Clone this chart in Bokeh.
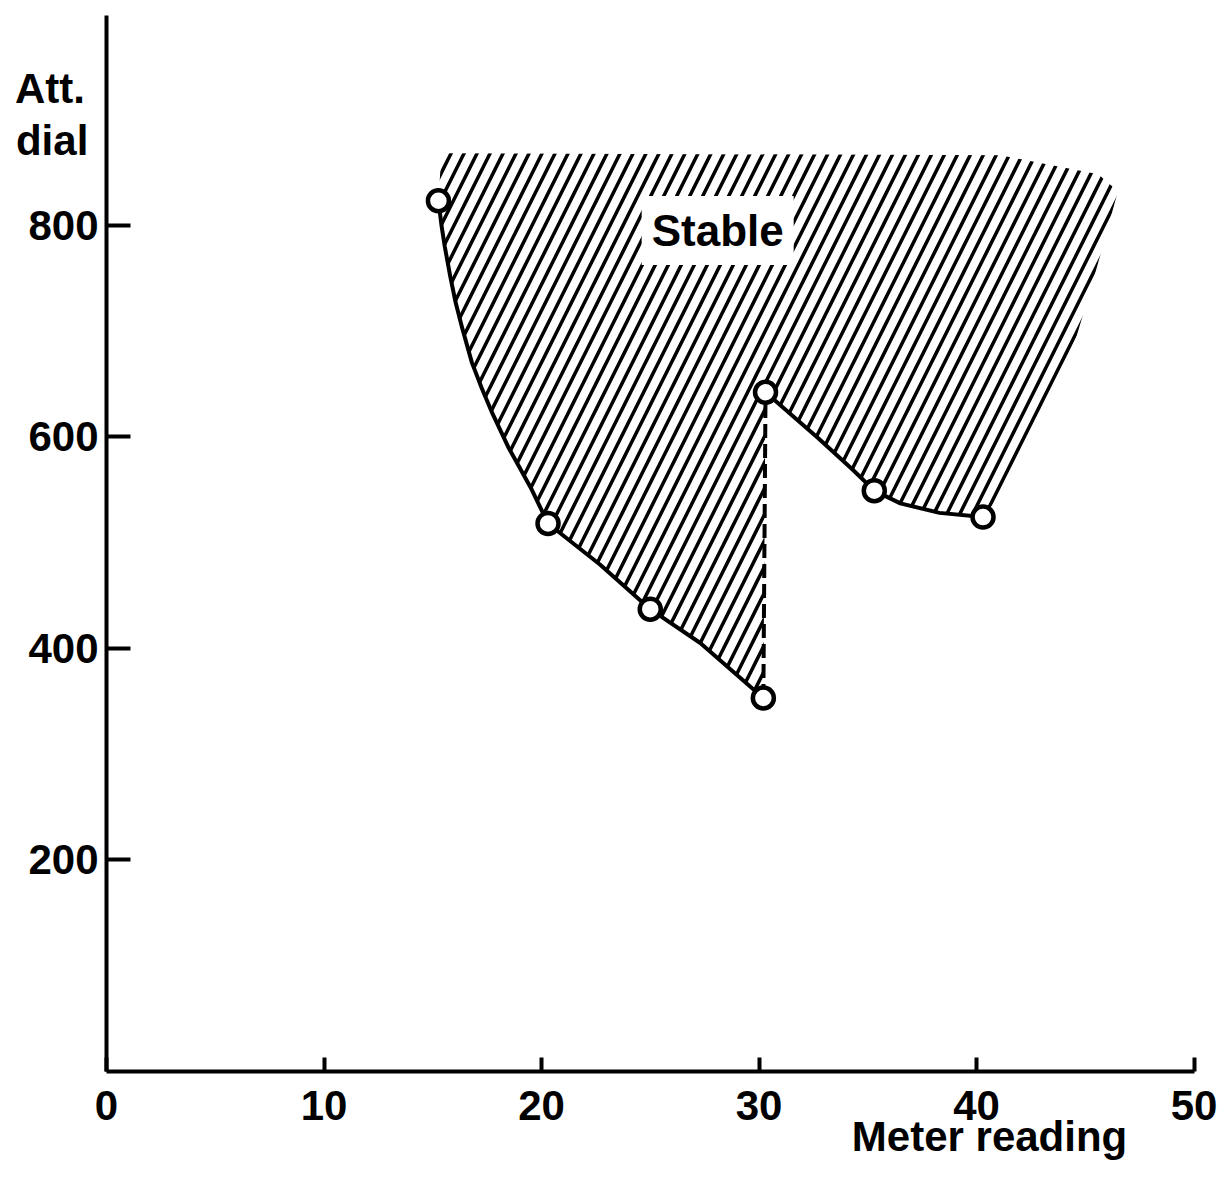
from bokeh.plotting import figure
from bokeh.models import FixedTicker, Label, Range1d
from bokeh.embed import file_html
from bokeh.resources import INLINE

# Measured points (meter reading, attenuator dial)
meter = [15.26, 20.3, 25.0, 30.2, 30.3, 35.3, 40.3]
att = [823, 518, 437, 353, 642, 549, 524]

# Boundary curve, left branch
left_x = [15.26, 15.4, 15.55, 15.8, 16.05, 16.35, 16.8, 17.25, 17.7, 18.5, 19.5, 20.3, 22.7, 25.0, 27.3, 30.2]
left_y = [823, 800, 780, 752, 727, 703, 670, 646, 624, 589, 552, 518, 479, 437, 405, 353]

# Boundary curve, right branch
right_x = [30.3, 32.7, 34.3, 35.3, 36.5, 38.3, 40.3]
right_y = [642, 599, 569, 549, 537, 528, 524]

# Outer edge of the hatched "Stable" region
edge_x = [40.9, 41.2, 42.2, 43.4, 44.6, 45.3, 45.9, 46.5, 45.6, 41.1, 15.4]
edge_y = [540, 548, 583, 641, 695, 743, 787, 832, 848, 866, 868]

x_ticks = [0, 10, 20, 30, 40, 50]
y_ticks = [200, 400, 600, 800]

FONT = "Liberation Sans"

p = figure(width=1229, height=1194, output_backend="svg", toolbar_location=None,
           x_range=Range1d(-4.874, 51.632), y_range=Range1d(-116.26, 1012.29),
           min_border_left=0, min_border_right=0, min_border_top=0,
           min_border_bottom=0, min_border=0)
p.outline_line_color = None
p.grid.visible = False
p.background_fill_color = "white"
p.border_fill_color = "white"

for ax, ticks, tin, bnds in ((p.xaxis[0], x_ticks, 14, (0, 50)),
                             (p.yaxis[0], y_ticks, 24, (0, 998))):
    ax.fixed_location = 0
    ax.bounds = bnds
    ax.ticker = FixedTicker(ticks=ticks)
    ax.axis_line_width = 4
    ax.axis_line_color = "black"
    ax.major_tick_line_width = 4
    ax.major_tick_line_color = "black"
    ax.major_tick_in = tin
    ax.major_tick_out = 0
    ax.minor_tick_line_color = None
    ax.major_label_text_font = FONT
    ax.major_label_text_font_style = "bold"
    ax.major_label_text_font_size = "42px"
    ax.major_label_text_color = "black"
p.xaxis[0].major_label_standoff = 20
p.yaxis[0].major_label_standoff = 8

# Hatched stable region
poly_x = left_x + right_x + edge_x
poly_y = left_y + right_y + edge_y
p.patch(poly_x, poly_y, fill_color=None, line_color=None,
        hatch_pattern="/", hatch_scale=26, hatch_weight=3.5, hatch_color="black")

p.add_layout(Label(x=28.1, y=795, text="Stable", text_font=FONT, text_font_style="bold",
                   text_font_size="44px", text_align="center", text_baseline="middle",
                   text_color="black", background_fill_color="white", padding=10))

# Boundary lines
p.line(left_x, left_y, line_color="black", line_width=4, line_join="round")
p.line(right_x, right_y, line_color="black", line_width=4, line_join="round")
p.segment(x0=[meter[3]], y0=[att[3]], x1=[meter[4]], y1=[att[4]],
          line_color="black", line_width=4, line_dash="14 6")

p.scatter(meter, att, marker="circle", size=21, fill_color="white",
          line_color="black", line_width=4.5)

# Axis titles
for txt, x, y in (("Att.", -2.6, 929), ("dial", -2.5, 880), ("Meter reading", 40.6, -61)):
    p.add_layout(Label(x=x, y=y, text=txt, text_font=FONT, text_font_style="bold",
                       text_font_size="42px", text_align="center", text_baseline="middle",
                       text_color="black"))

open("out.html", "w").write(file_html(p, INLINE))
